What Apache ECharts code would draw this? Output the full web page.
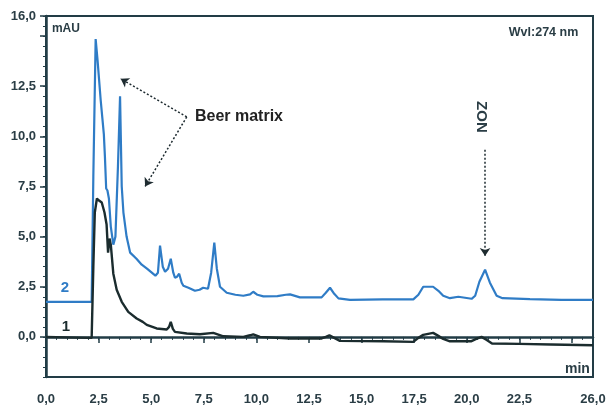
<!DOCTYPE html>
<html>
<head>
<meta charset="utf-8">
<script src="https://cdn.jsdelivr.net/npm/echarts@6/dist/echarts.min.js"></script>
<style>
  html, body { margin: 0; padding: 0; background: #fff; }
  #chart { width: 609px; height: 407px; }
</style>
</head>
<body>
<div id="chart"></div>
<script>
// trace 2 (blue, beer spiked with ZON)
const blueTime = [0, 2.17, 2.25, 2.36, 2.45, 2.6, 2.68, 2.72, 2.75, 2.8, 2.86, 2.92, 2.99, 3.08, 3.2, 3.3, 3.42, 3.52, 3.6, 3.68, 3.83, 4.0, 4.3, 4.55, 4.8, 5.2, 5.32, 5.42, 5.55, 5.66, 5.8, 5.93, 6.05, 6.13, 6.23, 6.33, 6.45, 6.53, 6.77, 7.08, 7.3, 7.47, 7.7, 7.85, 8.0, 8.12, 8.27, 8.59, 9.0, 9.38, 9.7, 9.85, 10.05, 10.33, 11.0, 11.4, 11.6, 12.07, 13.1, 13.3, 13.5, 13.7, 13.9, 14.45, 16.0, 17.46, 17.7, 17.93, 18.4, 18.65, 18.88, 19.2, 19.6, 20.23, 20.4, 20.6, 20.87, 21.1, 21.42, 21.7, 23.0, 24.5, 26.0]
const blueAbs = [1.75, 1.75, 8.0, 14.85, 13.8, 11.8, 10.9, 10.9, 10.1, 9.0, 7.4, 7.3, 6.9, 5.5, 4.6, 5.0, 8.5, 12.0, 7.5, 6.2, 5.0, 4.2, 3.9, 3.6, 3.4, 3.05, 3.2, 4.55, 3.5, 3.25, 3.4, 3.9, 3.2, 2.95, 3.0, 3.15, 2.7, 2.55, 2.45, 2.3, 2.35, 2.45, 2.4, 3.2, 4.7, 3.4, 2.5, 2.2, 2.1, 2.05, 2.12, 2.25, 2.1, 2.02, 2.03, 2.1, 2.12, 1.97, 1.97, 2.2, 2.45, 2.15, 1.92, 1.85, 1.87, 1.87, 2.1, 2.5, 2.5, 2.3, 2.05, 1.93, 2.0, 1.9, 2.05, 2.75, 3.35, 2.7, 2.05, 1.93, 1.88, 1.85, 1.85]

// trace 1 (black, beer matrix)
const blackTime = [0, 2.0, 2.17, 2.25, 2.32, 2.42, 2.52, 2.65, 2.78, 2.88, 2.95, 3.02, 3.08, 3.2, 3.36, 3.6, 3.91, 4.31, 4.6, 4.79, 5.26, 5.74, 5.85, 5.93, 6.03, 6.13, 6.69, 7.32, 7.95, 8.43, 9.38, 9.7, 9.85, 10.17, 11.6, 13.1, 13.3, 13.47, 13.7, 13.97, 16.03, 17.46, 17.7, 17.93, 18.4, 18.65, 18.88, 19.2, 20.2, 20.45, 20.7, 20.95, 21.2, 22.5, 24.0, 26.0]
const blackAbs = [0, -0.05, -0.05, 3.5, 6.2, 6.9, 6.8, 6.7, 6.2, 5.6, 4.2, 4.9, 4.6, 3.15, 2.35, 1.75, 1.25, 0.92, 0.75, 0.6, 0.42, 0.37, 0.5, 0.75, 0.4, 0.25, 0.17, 0.13, 0.2, 0.03, 0, 0.08, 0.13, 0, -0.08, -0.08, 0, 0.08, -0.05, -0.2, -0.22, -0.25, -0.05, 0.1, 0.2, 0.05, -0.1, -0.22, -0.22, -0.1, 0, -0.15, -0.33, -0.35, -0.38, -0.42]

// axis ticks / labels
const xLabelValues = [0, 2.5, 5, 7.5, 10, 12.5, 15, 17.5, 20, 22.5, 26]
const xMajorTicks = [0, 2.5, 5, 7.5, 10, 12.5, 15, 17.5, 20, 22.5, 25, 26]
const yLabelValues = [0, 2.5, 5, 7.5, 10, 12.5, 16]
const yMajorTicks = [0, 2.5, 5, 7.5, 10, 12.5, 15, 16]
const xMinorTicks = []
for (let v = 0; v <= 26; v += 0.5) xMinorTicks.push(v)
const yMinorTicks = []
for (let v = -2; v <= 16; v += 0.5) yMinorTicks.push(v)

const axisColor = '#223c46'
const textColor = '#2a3d45'
const blueColor = '#2f7cc6'
const blackColor = '#1b2c2e'
const fontFamily = '"Liberation Sans", Arial, sans-serif'

const fmt = (v) => v.toFixed(1).replace('.', ',')
const pairs = (xs, ys) => xs.map((x, i) => [x, ys[i]])

const chart = echarts.init(document.getElementById('chart'))

const baseX = { type: 'value', min: 0, max: 26, gridIndex: 0, position: 'bottom', splitLine: { show: false } }
const baseY = { type: 'value', min: -2, max: 16, gridIndex: 0, position: 'left', splitLine: { show: false } }

chart.setOption({
  animation: false,
  backgroundColor: '#fff',
  grid: { left: 46, right: 16, top: 16, bottom: 30, show: true, borderColor: axisColor, borderWidth: 2 },
  xAxis: [
    {
      ...baseX,
      axisLine: { lineStyle: { color: axisColor, width: 2.5 } },
      axisTick: { customValues: xMajorTicks, length: 6, lineStyle: { color: axisColor, width: 1.5 } },
      axisLabel: {
        customValues: xLabelValues, formatter: fmt, margin: 16,
        color: textColor, fontWeight: 'bold', fontSize: 13, fontFamily
      }
    },
    {
      ...baseX,
      axisLine: { show: false },
      axisTick: { customValues: xMinorTicks, length: 3, lineStyle: { color: axisColor, width: 1 } },
      axisLabel: { show: false }
    }
  ],
  yAxis: [
    {
      ...baseY,
      axisLine: { lineStyle: { color: axisColor, width: 2.5 } },
      axisTick: { customValues: yMajorTicks, length: 6, lineStyle: { color: axisColor, width: 1.5 } },
      axisLabel: {
        customValues: yLabelValues, formatter: fmt, margin: 10,
        color: textColor, fontWeight: 'bold', fontSize: 13, fontFamily
      }
    },
    {
      ...baseY,
      axisLine: { show: false },
      axisTick: { customValues: yMinorTicks, length: 3, lineStyle: { color: axisColor, width: 1 } },
      axisLabel: { show: false }
    }
  ],
  series: [
    {
      name: '1', type: 'line', data: pairs(blackTime, blackAbs),
      showSymbol: false, lineStyle: { color: blackColor, width: 2.4 }, z: 3
    },
    {
      name: '2', type: 'line', data: pairs(blueTime, blueAbs),
      showSymbol: false, lineStyle: { color: blueColor, width: 2.2 }, z: 2,
      markLine: {
        silent: true, symbol: ['none', 'arrow'], symbolSize: 8,
        label: { show: false },
        lineStyle: { color: '#1e2b30', type: [2, 2], width: 1.5 },
        data: [
          [{ coord: [6.69, 10.97] }, { coord: [3.55, 12.87] }],
          [{ coord: [6.69, 10.97] }, { coord: [4.71, 7.5] }],
          [{ coord: [20.87, 9.33] }, { coord: [20.87, 4.03] }]
        ]
      }
    }
  ]
})

// text annotations placed in data units
const at = (x, y) => chart.convertToPixel({ gridIndex: 0 }, [x, y])
const txt = (pos, text, opts) => ({
  type: 'text', x: pos[0], y: pos[1], silent: true,
  style: { text, fontFamily, fontWeight: 'bold', fill: textColor, ...opts }
})
const notes = [
  txt(at(0.28, 15.35), 'mAU', { fontSize: 12, verticalAlign: 'middle' }),
  txt(at(25.3, 15.17), 'Wvl:274 nm', { fontSize: 12.5, align: 'right', verticalAlign: 'middle' }),
  txt(at(7.08, 11.0), 'Beer matrix', { fontSize: 16, fill: '#222', verticalAlign: 'middle' }),
  txt(at(0.9, 2.43), '2', { fontSize: 15, fill: blueColor, align: 'center', verticalAlign: 'middle' }),
  txt(at(0.95, 0.48), '1', { fontSize: 15, fill: blackColor, align: 'center', verticalAlign: 'middle' }),
  txt(at(25.85, -1.6), 'min', { fontSize: 14, align: 'right', verticalAlign: 'middle' })
]
const zonPos = at(20.7, 10.97)
notes.push({
  type: 'text', x: zonPos[0], y: zonPos[1], rotation: -Math.PI / 2, silent: true,
  style: { text: 'ZON', fontFamily, fontWeight: 'bold', fontSize: 15, fill: textColor, align: 'center', verticalAlign: 'middle' }
})
chart.setOption({ graphic: notes })
</script>
</body>
</html>
